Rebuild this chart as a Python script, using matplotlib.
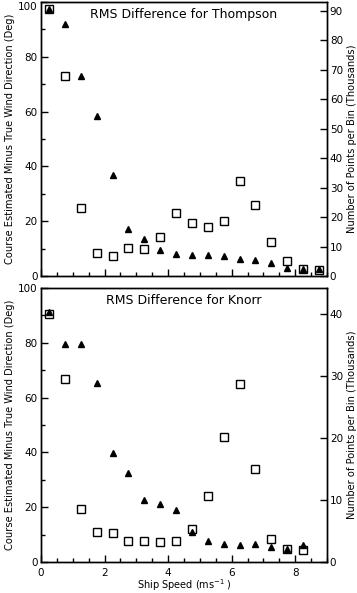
import matplotlib
matplotlib.use("Agg")
import matplotlib.pyplot as plt
from matplotlib.ticker import MultipleLocator

plt.rcParams['font.family'] = ['DejaVu Sans']

# Thompson
thompson_speed = [0.25, 0.75, 1.25, 1.75, 2.25, 2.75, 3.25, 3.75, 4.25, 4.75,
                  5.25, 5.75, 6.25, 6.75, 7.25, 7.75, 8.25, 8.75]
thompson_rms = [97.5, 91.9, 73.1, 58.3, 36.9, 17.3, 13.5, 9.5, 7.9, 7.7,
                7.5, 7.2, 6.2, 5.8, 4.9, 2.8, 2.4, 2.4]
thompson_count = [90.5, 67.9, 23.0, 7.8, 6.7, 9.4, 9.0, 13.1, 21.3, 18.0,
                  16.8, 18.5, 32.2, 24.0, 11.4, 5.2, 2.5, 2.0]

# Knorr
knorr_speed = [0.25, 0.75, 1.25, 1.75, 2.25, 2.75, 3.25, 3.75, 4.25, 4.75,
               5.25, 5.75, 6.25, 6.75, 7.25, 7.75, 8.25]
knorr_rms = [91.1, 79.7, 79.7, 65.3, 39.6, 32.6, 22.8, 21.2, 18.9, 11.1,
             7.5, 6.6, 6.3, 6.5, 5.4, 4.8, 6.1]
knorr_count = [40.0, 29.6, 8.5, 4.8, 4.6, 3.4, 3.4, 3.2, 3.4, 5.3,
               10.6, 20.1, 28.7, 15.0, 3.7, 2.1, 2.0]

W, H = 357, 593
fig = plt.figure(figsize=(W / 100, H / 100), dpi=100)

FS = 7.5
LFS = 7.1
TFS = 9

panels = [
    (thompson_speed, thompson_rms, thompson_count, "RMS Difference for Thompson", 93, (2, 276), False),
    (knorr_speed, knorr_rms, knorr_count, "RMS Difference for Knorr", 44.2, (288, 562), True),
]

top_ax = None
for speed, rms, count, title, rmax, (ytop, ybot), bottom in panels:
    left, right = 41, 327
    ax = fig.add_axes([left / W, (H - ybot) / H, (right - left) / W, (ybot - ytop) / H])
    if top_ax is None:
        top_ax = ax
    ax2 = ax.twinx()
    ax.set_xlim(0, 9)
    ax.set_ylim(0, 100)
    ax2.set_ylim(0, rmax)

    ax.plot(speed, rms, linestyle='none', marker='^', color='black',
            markersize=5, zorder=3, clip_on=False)
    ax2.plot(speed, count, linestyle='none', marker='s', markerfacecolor='none',
             markeredgecolor='black', markeredgewidth=1.0, markersize=5.5, clip_on=False)

    ax.xaxis.set_major_locator(MultipleLocator(2))
    ax.xaxis.set_minor_locator(MultipleLocator(0.5))
    ax.yaxis.set_major_locator(MultipleLocator(20))
    ax.yaxis.set_minor_locator(MultipleLocator(10))
    ax2.yaxis.set_major_locator(MultipleLocator(10))

    for a in (ax, ax2):
        for s in a.spines.values():
            s.set_linewidth(1.0)
    ax.tick_params(axis='both', which='major', direction='in', length=5, width=1,
                   labelsize=FS, pad=2.5, top=False, right=False)
    ax.tick_params(axis='both', which='minor', direction='in', length=3, width=1,
                   top=False, right=False)
    ax2.tick_params(axis='y', which='major', direction='in', length=5, width=1,
                    labelsize=FS, pad=2)
    ax2.tick_params(axis='y', which='minor', length=0)

    if not bottom:
        ax.tick_params(axis='x', labelbottom=False)
    else:
        ax.tick_params(axis='x', pad=4)
        ax.set_xlabel(r'Ship Speed (ms$^{-1}$ )', fontsize=7.0, labelpad=0)

    ax.set_ylabel('Course Estimated Minus True Wind Direction (Deg)', fontsize=LFS, labelpad=2)
    ax2.set_ylabel('Number of Points per Bin (Thousands)', fontsize=LFS, labelpad=3)

    ax.text(0.5, 0.955, title, transform=ax.transAxes, ha='center', va='center',
            fontsize=TFS)

fig.canvas.draw()
for tick in top_ax.yaxis.get_major_ticks():
    if abs(tick.get_loc() - 100) < 1e-6:
        tick.label1.set_va('top')

fig.savefig('out.png', dpi=100)
